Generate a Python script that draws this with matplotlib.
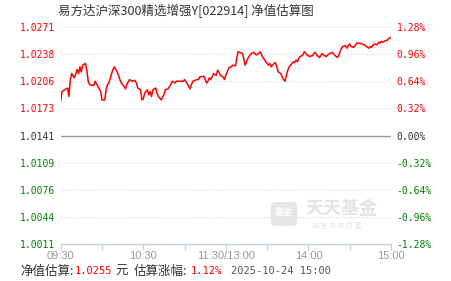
import matplotlib
matplotlib.use("Agg")
import matplotlib.pyplot as plt
from matplotlib.patches import FancyBboxPatch

# ---- data ----
minutes = [0, 1, 3, 5, 6, 7, 8, 10, 12, 13, 14, 15, 16, 18, 19, 20, 21, 24, 25, 27,
           29, 30, 32, 33, 34, 35, 37, 38, 39, 41, 42, 43, 44, 46, 47, 48, 50, 52, 54, 55,
           56, 58, 59, 60, 61, 63, 64, 65, 66, 67, 69, 70, 71, 73, 75, 76, 78, 80, 81, 83,
           84, 85, 87, 89, 90, 92, 93, 94, 95, 96, 99, 100, 101, 104, 105, 106, 107, 108, 109, 110,
           111, 113, 114, 115, 116, 118, 119, 120, 122, 123, 124, 125, 127, 128, 129, 130, 132, 133, 134, 136,
           138, 140, 141, 142, 144, 145, 146, 147, 149, 150, 151, 152, 153, 155, 156, 157, 158, 160, 161, 162,
           163, 164, 165, 166, 167, 169, 170, 171, 172, 173, 174, 176, 177, 178, 179, 181, 182, 183, 184, 185,
           186, 188, 189, 190, 191, 193, 194, 196, 197, 198, 199, 201, 202, 203, 204, 205, 207, 208, 209, 210,
           211, 213, 214, 215, 217, 219, 220, 221, 222, 224, 225, 226, 227, 228, 230, 231, 232, 233, 234, 236,
           237, 238, 239, 240]
pct = [0.40, 0.52, 0.54, 0.56, 0.46, 0.66, 0.73, 0.68, 0.78, 0.73, 0.81, 0.75, 0.83, 0.85, 0.77, 0.64, 0.60, 0.59, 0.64, 0.58,
       0.52, 0.42, 0.42, 0.54, 0.60, 0.62, 0.73, 0.78, 0.81, 0.75, 0.71, 0.66, 0.62, 0.58, 0.55, 0.60, 0.66, 0.64, 0.65, 0.62,
       0.56, 0.54, 0.42, 0.43, 0.50, 0.54, 0.48, 0.52, 0.46, 0.54, 0.56, 0.50, 0.46, 0.42, 0.48, 0.54, 0.55, 0.60, 0.64, 0.62,
       0.64, 0.64, 0.64, 0.64, 0.66, 0.61, 0.58, 0.55, 0.60, 0.64, 0.66, 0.66, 0.69, 0.70, 0.66, 0.62, 0.64, 0.68, 0.66, 0.69,
       0.73, 0.71, 0.77, 0.75, 0.71, 0.69, 0.66, 0.71, 0.79, 0.81, 0.81, 0.83, 0.82, 0.92, 0.99, 0.98, 0.97, 0.91, 0.83, 0.91,
       0.96, 0.98, 0.97, 0.95, 0.97, 0.99, 0.95, 0.92, 0.87, 0.85, 0.83, 0.85, 0.81, 0.85, 0.86, 0.81, 0.75, 0.73, 0.69, 0.66,
       0.64, 0.71, 0.77, 0.81, 0.83, 0.87, 0.86, 0.89, 0.87, 0.91, 0.93, 0.95, 0.99, 0.97, 0.95, 0.93, 0.94, 0.94, 0.97, 0.98,
       0.95, 0.92, 0.94, 0.97, 0.95, 0.93, 0.95, 0.97, 0.98, 0.97, 0.95, 0.92, 0.94, 0.99, 1.03, 1.05, 1.06, 1.03, 1.06, 1.08,
       1.05, 1.04, 1.06, 1.09, 1.09, 1.08, 1.07, 1.07, 1.05, 1.03, 1.05, 1.04, 1.07, 1.08, 1.07, 1.10, 1.09, 1.11, 1.10, 1.12,
       1.12, 1.14, 1.15, 1.16]

y_ticks = [1.28, 0.96, 0.64, 0.32, 0.00, -0.32, -0.64, -0.96, -1.28]
left_labels = ["1.0271", "1.0238", "1.0206", "1.0173", "1.0141", "1.0109", "1.0076", "1.0044", "1.0011"]
right_labels = ["1.28%", "0.96%", "0.64%", "0.32%", "0.00%", "-0.32%", "-0.64%", "-0.96%", "-1.28%"]
x_ticks = [0, 30, 60, 90, 120, 150, 180, 210, 240]
x_labels = ["09:30", "", "10:30", "", "11:30/13:00", "", "14:00", "", "15:00"]

title = "易方达沪深300精选增强Y[022914] 净值估算图"
nav_est = "1.0255"
pct_est = "1.12%"
stamp = "2025-10-24 15:00"

RED = "#ff0000"
GREEN = "#008000"
DARK = "#333333"

def lab_color(v):
    return RED if v > 0 else (GREEN if v < 0 else DARK)

plt.rcParams['font.family'] = ['Noto Sans CJK SC', 'DejaVu Sans']

W, H = 451, 281
fig = plt.figure(figsize=(W / 100, H / 100), dpi=100)
ax = fig.add_axes([60.7 / W, 1 - 244 / H, (391 - 60.7) / W, (244 - 27) / H])

# watermark
def px(x, y):
    return x / W, 1 - y / H

logo = FancyBboxPatch(px(271, 226), 26 / W, 24 / H, boxstyle="round,pad=0,rounding_size=0.012",
                      transform=fig.transFigure, facecolor="#e6e6e6", edgecolor="none", zorder=0)
fig.patches.append(logo)
fig.text(*px(284, 213), "基金", color="white", fontsize=6.5, ha="center", va="center", fontweight="bold")
fig.text(*px(342, 209), "天天基金", color="#e4e4e4", fontsize=13, ha="center", va="center", fontweight="bold")
fig.text(*px(337, 226), "链 接 您 与 财 富", color="#e4e4e4", fontsize=5, ha="center", va="center")

ax.set_facecolor("none")
ax.plot(minutes, pct, color=RED, lw=1.1, zorder=3)

ax.set_xlim(0, 240)
ax.set_ylim(-1.28, 1.28)

for v in y_ticks:
    if v == 0:
        ax.axhline(v, color="#999999", lw=1.0, zorder=2)
    elif v > -1.28:
        ax.axhline(v, color="#d8d8d8", lw=0.8, ls=(0, (1, 1.5)), zorder=1)

for s in ["top", "left", "right"]:
    ax.spines[s].set_visible(False)
ax.spines["bottom"].set_color("#c2cfdc")
ax.spines["bottom"].set_linewidth(1.0)

ax.set_xticks(x_ticks)
ax.set_xticklabels(x_labels, fontsize=8, color="#999999", family=["Liberation Sans", "DejaVu Sans"])
ax.tick_params(axis="x", direction="out", length=4, color="#c2cfdc", pad=1)

ax.set_yticks(y_ticks)
ax.set_yticklabels(left_labels, fontsize=7, family=["DejaVu Sans Mono"])
ax.tick_params(axis="y", length=0, pad=4)
for t, v in zip(ax.get_yticklabels(), y_ticks):
    t.set_color(lab_color(v))

ax2 = ax.twinx()
ax2.set_ylim(-1.28, 1.28)
ax2.set_yticks(y_ticks)
ax2.set_yticklabels(right_labels, fontsize=7, family=["DejaVu Sans Mono"])
ax2.tick_params(axis="y", length=0, pad=4)
for t, v in zip(ax2.get_yticklabels(), y_ticks):
    t.set_color(lab_color(v))
for s in ["top", "left", "right", "bottom"]:
    ax2.spines[s].set_visible(False)

# title
fig.text(*px(58, 11), title, fontsize=9, color=DARK, ha="left", va="center")

# bottom line
yb = 271.5
fig.text(*px(20, yb), "净值估算:", fontsize=9, color=DARK, ha="left", va="center")
fig.text(*px(75, yb), nav_est, fontsize=7.5, color=RED, ha="left", va="center", family=["DejaVu Sans Mono"])
fig.text(*px(115, yb), "元", fontsize=9, color=DARK, ha="left", va="center")
fig.text(*px(134, yb), "估算涨幅:", fontsize=9, color=DARK, ha="left", va="center")
fig.text(*px(191, yb), pct_est, fontsize=7.5, color=RED, ha="left", va="center", family=["DejaVu Sans Mono"])
fig.text(*px(231, yb), stamp, fontsize=7.5, color="#555555", ha="left", va="center", family=["DejaVu Sans Mono"])

fig.savefig("out.png", dpi=100)
